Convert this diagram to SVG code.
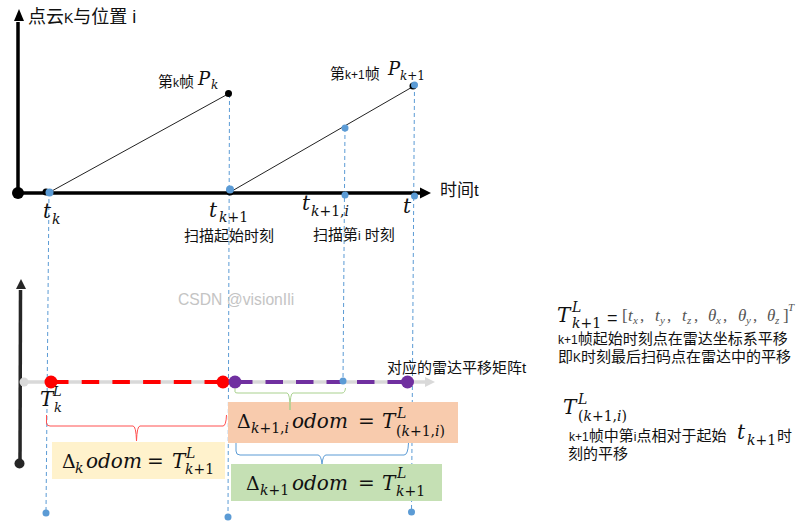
<svg xmlns="http://www.w3.org/2000/svg" width="800" height="525" viewBox="0 0 800 525">
<style>
.cn{font-family:"Liberation Sans","Noto Sans CJK SC",sans-serif;fill:#111;font-size:15px}
.l{font-size:12px}
.m{font-family:"DejaVu Serif",serif;font-style:italic;fill:#111}
.mu{font-family:"DejaVu Serif",serif;fill:#111}
.r{font-style:normal}
.c{font-family:"Liberation Serif",serif;fill:#555;font-size:17px}
.ci{font-style:italic}
.s{font-size:11px;font-family:"Liberation Serif",serif;font-style:italic;fill:#555}
.dash{stroke:#5b9bd5;stroke-width:1;stroke-dasharray:4 3;fill:none}
.thin{stroke:#222;stroke-width:1;fill:none}
.brace{fill:none;stroke-width:1}
.blue{fill:#5b9bd5}
</style>
<g id="connectors">
<line class="dash" x1="49" y1="192" x2="46" y2="513"/>
<line class="dash" x1="229.500" y1="94" x2="228" y2="517"/>
<line class="dash" x1="345" y1="128" x2="343" y2="381"/>
<line class="dash" x1="414.500" y1="85" x2="411.500" y2="512"/>
<line class="thin" x1="50" y1="192" x2="228" y2="94"/>
<line class="thin" x1="232" y1="191" x2="414" y2="86"/>
<line x1="18" y1="193" x2="18" y2="22" stroke="#000" stroke-width="3.500"/>
<polygon points="19,9 14,21 24,21" fill="#000"/>
<line x1="18" y1="193" x2="422" y2="193" stroke="#000" stroke-width="3.500"/>
<polygon points="431,193 420,187.500 420,198.500" fill="#000"/>
<line x1="20" y1="463" x2="20.500" y2="290" stroke="#262626" stroke-width="3.500"/>
<polygon points="21,279 16,289 26,289" fill="#262626"/>
<line x1="24" y1="382" x2="426" y2="382" stroke="#d9d9d9" stroke-width="3.500"/>
<polygon points="435,382 425,377 425,387" fill="#d9d9d9"/>
<line x1="51" y1="382" x2="223" y2="382" stroke="#f00" stroke-width="4" stroke-dasharray="17.500 13.200"/>
<line x1="235" y1="382" x2="407" y2="382" stroke="#7030a0" stroke-width="4" stroke-dasharray="17.500 13"/>
</g>
<g id="marks">
<circle cx="18" cy="193" r="6" fill="#000"/>
<circle cx="46" cy="192" r="3.500" fill="#000"/>
<circle cx="230" cy="192" r="3.500" fill="#000"/>
<circle cx="228.500" cy="93.500" r="3.500" fill="#000"/>
<circle cx="413" cy="86" r="3.500" fill="#000"/>
<circle class="blue" cx="49.500" cy="192.500" r="4"/>
<circle class="blue" cx="230" cy="189.500" r="4"/>
<circle class="blue" cx="345" cy="128" r="3.500"/>
<circle class="blue" cx="345" cy="195" r="3.500"/>
<circle class="blue" cx="414.500" cy="85" r="3.500"/>
<circle class="blue" cx="414.500" cy="196" r="3.500"/>
<circle class="blue" cx="46" cy="513" r="3.500"/>
<circle class="blue" cx="228" cy="517" r="3.500"/>
<circle class="blue" cx="411.500" cy="512" r="3.500"/>
<circle cx="24" cy="382" r="4.500" fill="#d9d9d9"/>
<circle cx="19.500" cy="463.500" r="5" fill="#262626"/>
<circle class="blue" cx="343" cy="381" r="3.500"/>
<circle cx="51" cy="382" r="6.500" fill="#f00"/>
<circle cx="223" cy="382" r="6.500" fill="#f00"/>
<circle cx="235" cy="382" r="6.500" fill="#7030a0"/>
<circle cx="407.500" cy="382" r="6.500" fill="#7030a0"/>
</g>
<g id="box-orange">
<rect x="228" y="402" width="230" height="41" fill="#f8cbad"/>
<text class="mu" x="237" y="428" font-size="19">Δ</text>
<text class="m" x="251" y="433" font-size="14">k<tspan class="r">+1,</tspan>i</text>
<text class="m" x="292" y="428" font-size="20">odom</text>
<text class="mu" x="358" y="428" font-size="20">=</text>
<text class="m" x="382" y="428" font-size="20">T</text>
<text class="m" x="397" y="418" font-size="14">L</text>
<text class="m" x="396" y="436" font-size="14"><tspan class="r">(</tspan>k<tspan class="r">+1,</tspan>i<tspan class="r">)</tspan></text>
</g>
<g id="box-yellow">
<rect x="52" y="442" width="173" height="37" fill="#fff2cc"/>
<text class="mu" x="62" y="468" font-size="19">Δ</text>
<text class="m" x="75" y="473" font-size="14">k</text>
<text class="m" x="86" y="468" font-size="20">odom</text>
<text class="mu" x="147" y="468" font-size="20">=</text>
<text class="m" x="172" y="468" font-size="20">T</text>
<text class="m" x="186" y="458" font-size="14">L</text>
<text class="m" x="185" y="474" font-size="14">k<tspan class="r">+1</tspan></text>
</g>
<g id="box-green">
<rect x="231" y="464" width="211" height="37" fill="#c5e0b4"/>
<text class="mu" x="246" y="490" font-size="19">Δ</text>
<text class="m" x="260" y="495" font-size="14">k<tspan class="r">+1</tspan></text>
<text class="m" x="292" y="490" font-size="20">odom</text>
<text class="mu" x="358" y="490" font-size="20">=</text>
<text class="m" x="382" y="490" font-size="20">T</text>
<text class="m" x="397" y="478" font-size="14">L</text>
<text class="m" x="396" y="496" font-size="14">k<tspan class="r">+1</tspan></text>
</g>
<g id="braces">
<path class="brace" stroke="#ff5050" d="M46.500 415V423Q46.500 426 50 426H133Q136 426 136.500 441Q137 426 140 426H223Q226 426 226.500 415"/>
<path class="brace" stroke="#a9d18e" d="M235 388V392Q235 393 238 393H287Q290 393 290 410Q290 393 293 393H342Q345 393 345.500 388"/>
<path class="brace" stroke="#5b9bd5" d="M236 443V451Q236 455 240 455H318Q321 455 322 464Q323 455 326 455H404Q408 455 408.500 443"/>
</g>
<g id="top-labels">
<text class="cn" x="28" y="23" style="font-size:18px">点云<tspan style="font-size:14px">K</tspan>与位置 i</text>
<text class="cn" x="440" y="196" style="font-size:17px">时间t</text>
<text class="cn" x="158" y="87">第<tspan class="l">k</tspan>帧</text>
<text class="m" x="198" y="85" font-size="18">P</text>
<text class="m" x="211" y="89" font-size="12">k</text>
<text class="cn" x="330" y="79">第<tspan class="l">k+1</tspan>帧</text>
<text class="m" x="388" y="75" font-size="18">P</text>
<text class="m" x="400" y="80" font-size="12">k<tspan class="r">+1</tspan></text>
<text class="m" x="43" y="218" font-size="20">t</text>
<text class="m" x="52" y="224" font-size="14">k</text>
<text class="m" x="209" y="217" font-size="20">t</text>
<text class="m" x="219" y="222" font-size="14">k<tspan class="r">+1</tspan></text>
<text class="m" x="302" y="210" font-size="20">t</text>
<text class="m" x="311" y="216" font-size="14">k<tspan class="r">+1,</tspan>i</text>
<text class="m" x="403" y="213" font-size="20">t</text>
<text class="cn" x="184" y="241">扫描起始时刻</text>
<text class="cn" x="313" y="240">扫描第<tspan class="l">i</tspan> 时刻</text>
<text class="m" x="40" y="406" font-size="20">T</text>
<text class="m" x="53" y="396" font-size="13">L</text>
<text class="m" x="54" y="412" font-size="13">k</text>
<text class="cn" x="387" y="373">对应的雷达平移矩阵t</text>
<text x="178" y="305" font-size="15.700" font-family="Liberation Sans,sans-serif" fill="#c4c4c4">CSDN @visionIli</text>
</g>
<g id="notes">
<text class="m" x="557" y="322" font-size="20">T</text>
<text class="m" x="572" y="312" font-size="14">L</text>
<text class="m" x="572" y="328" font-size="14">k<tspan class="r">+1</tspan></text>
<text class="cn" x="607" y="324" style="font-size:18px">=</text>
<text class="c" x="622" y="321">[</text>
<text class="c ci" x="628" y="321">t</text><text class="s" x="633" y="324">x</text><text class="c" x="640" y="321">,</text>
<text class="c ci" x="655" y="321">t</text><text class="s" x="660" y="324">y</text><text class="c" x="667" y="321">,</text>
<text class="c ci" x="682" y="321">t</text><text class="s" x="687" y="324">z</text><text class="c" x="694" y="321">,</text>
<text class="c ci" x="708" y="321">θ</text><text class="s" x="716" y="324">x</text><text class="c" x="723" y="321">,</text>
<text class="c ci" x="738" y="321">θ</text><text class="s" x="746" y="324">y</text><text class="c" x="753" y="321">,</text>
<text class="c ci" x="767" y="321">θ</text><text class="s" x="775" y="324">z</text>
<text class="c" x="783" y="321">]</text>
<text class="s" x="788" y="311">T</text>
<text class="cn" x="558" y="344"><tspan class="l">k+1</tspan>帧起始时刻点在雷达坐标系平移</text>
<text class="cn" x="558" y="362">即<tspan class="l">K</tspan>时刻最后扫码点在雷达中的平移</text>
<text class="m" x="563" y="414" font-size="20">T</text>
<text class="m" x="578" y="404" font-size="14">L</text>
<text class="m" x="578" y="421" font-size="14"><tspan class="r">(</tspan>k<tspan class="r">+1,</tspan>i<tspan class="r">)</tspan></text>
<text class="cn" x="569" y="441"><tspan class="l">k+1</tspan>帧中第<tspan class="l">i</tspan>点相对于起始</text>
<text class="m" x="737" y="439" font-size="20">t</text>
<text class="m" x="747" y="445" font-size="14">k<tspan class="r">+1</tspan></text>
<text class="cn" x="777" y="441">时</text>
<text class="cn" x="568" y="459">刻的平移</text>
</g>
</svg>
